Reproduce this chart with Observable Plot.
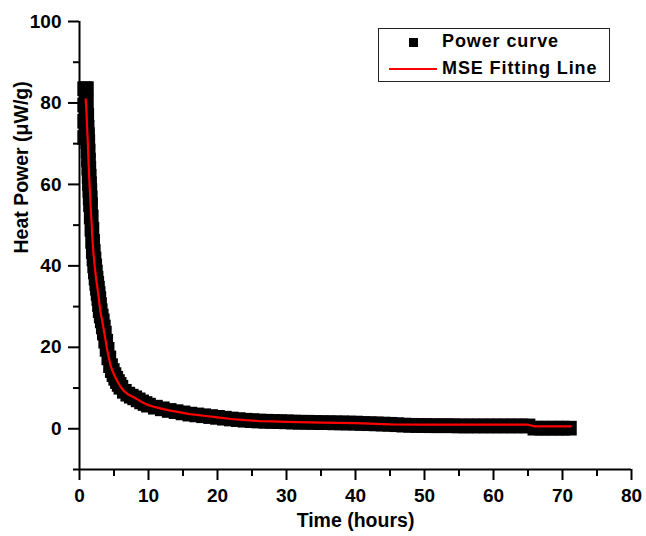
<!DOCTYPE html>
<html><head><meta charset="utf-8">
<script src="https://cdn.jsdelivr.net/npm/d3@7"></script>
<script src="https://cdn.jsdelivr.net/npm/@observablehq/plot@0.6"></script>
<style>
html,body{margin:0;padding:0;background:#fff;}
#wrap{position:relative;width:646px;height:536px;font-family:"Liberation Sans",Arial,sans-serif;}
#wrap svg{display:block;}
#wrap svg text{font-weight:bold;fill:#000;}
#legend{position:absolute;left:378px;top:28px;width:232px;height:54px;border:1.5px solid #222;box-sizing:border-box;background:#fff;}
.lg-text{position:absolute;left:63px;font-size:18px;font-weight:bold;line-height:18px;letter-spacing:0.9px;color:#000;white-space:nowrap;}
.lg-square{position:absolute;background:#000;}
.lg-line{position:absolute;background:#ff0000;}
</style></head><body>
<div id="wrap"></div>
<script>
// ---- data ----
const xTicks = [0, 10, 20, 30, 40, 50, 60, 70, 80];
const xMinorTicks = [5, 15, 25, 35, 45, 55, 65, 75];
const yTicks = [0, 20, 40, 60, 80, 100];
const yMinorTicks = [-10, 10, 30, 50, 70, 90];
const xLabel = "Time (hours)";
const yLabel = "Heat Power (\u03bcW/g)";
const seriesNames = ["Power curve", "MSE Fitting Line"];

// Power curve (measured points)
const powerTime = [
  0.75, 0.75, 0.75, 0.75, 1.0, 1.0, 1.05, 1.1, 1.15, 1.2,
  1.25, 1.3, 1.35, 1.4, 1.45, 1.5, 1.55, 1.6, 1.7, 1.8,
  1.9, 2.0, 2.1, 2.2, 2.3, 2.4, 2.5, 2.6, 2.7, 2.8,
  2.9, 3.0, 3.15, 3.3, 3.45, 3.6, 3.8, 4.0, 4.25, 4.5,
  4.75, 5.0, 5.25, 5.5, 5.75, 6.0, 6.5, 7.0, 7.5, 8.0,
  8.5, 9, 9.5, 10, 11, 12, 13, 14, 15, 16,
  17, 18, 19, 20, 21, 22, 23, 24, 25, 26,
  27, 28, 29, 30, 31, 32, 33, 34, 35, 36,
  37, 38, 39, 40, 41, 42, 43, 44, 45, 46,
  47, 48, 49, 50, 51, 52, 53, 54, 55, 56,
  57, 58, 59, 60, 61, 62, 63, 64, 65, 66,
  67, 68, 69, 70, 71
];
const powerValue = [
  83.5, 79.5, 75.5, 71.5, 83.5, 80, 77, 74, 72.2, 70.5,
  68.2, 66, 64, 62, 60.2, 58.5, 56.7, 55, 52, 49,
  46, 43.5, 41.7, 40, 38.5, 37, 35.7, 34.5, 33.2, 32,
  30.5, 29, 27.7, 26.5, 25, 23.5, 21.5, 19.5, 17.4, 15.5,
  14.3, 13.3, 12.4, 11.6, 10.9, 10.2, 9.2, 8.5, 8.0, 7.6,
  7.1, 6.6, 6.2, 5.8, 5.3, 4.9, 4.5, 4.2, 3.9, 3.6,
  3.4, 3.2, 3.0, 2.8, 2.6, 2.4, 2.25, 2.1, 2.0, 1.9,
  1.85, 1.8, 1.75, 1.7, 1.65, 1.6, 1.6, 1.55, 1.5, 1.5,
  1.45, 1.45, 1.4, 1.4, 1.3, 1.25, 1.2, 1.15, 1.1, 1.0,
  0.9, 0.85, 0.8, 0.8, 0.75, 0.75, 0.75, 0.75, 0.7, 0.7,
  0.7, 0.7, 0.7, 0.7, 0.7, 0.7, 0.7, 0.7, 0.7, 0.15,
  0.15, 0.15, 0.15, 0.15, 0.15
];

// MSE fitting line
const fitTime = [
  0.9, 1.0, 1.1, 1.2, 1.3, 1.4, 1.5, 1.6, 1.7, 1.8,
  1.9, 2.0, 2.2, 2.4, 2.6, 2.8, 3.0, 3.3, 3.6, 4.0,
  4.5, 5.0, 5.5, 6.0, 6.5, 7.0, 8.0, 9.0, 10, 11,
  12, 13, 14, 15, 16, 18, 20, 22, 24, 26,
  28, 30, 35, 40, 45, 50, 55, 60, 65, 66,
  71.2
];
const fitValue = [
  80.9, 78.5, 74, 70.5, 66, 62, 58.5, 55, 52, 49,
  46, 43.5, 40, 37, 34.5, 32, 29, 26.5, 23.5, 19.5,
  15.5, 13.3, 11.6, 10.2, 9.2, 8.5, 7.6, 6.6, 5.8, 5.3,
  4.9, 4.5, 4.2, 3.9, 3.6, 3.2, 2.8, 2.4, 2.1, 1.9,
  1.8, 1.7, 1.5, 1.4, 1.1, 1.0, 1.0, 1.0, 1.0, 0.6,
  0.6
];

const power = powerTime.map((t, i) => ({t, v: powerValue[i]}));
const fit = fitTime.map((t, i) => ({t, v: fitValue[i]}));

const font = "'Liberation Sans', Arial, sans-serif";

const chart = Plot.plot({
  width: 646,
  height: 536,
  marginLeft: 79,
  marginRight: 15,
  marginTop: 21,
  marginBottom: 67,
  x: {domain: [0, 80]},
  y: {domain: [-10, 100]},
  style: {fontFamily: font, fontSize: "19px", fontWeight: "bold", color: "#000", background: "#fff", overflow: "visible"},
  marks: [
    Plot.dot(power, {x: "t", y: "v", symbol: "square", r: 8.3, fill: "#000", stroke: "none"}),
    Plot.line(fit, {x: "t", y: "v", stroke: "#ff0000", strokeWidth: 2.2}),
    Plot.ruleX([0], {stroke: "#000", strokeWidth: 2}),
    Plot.ruleY([-10], {stroke: "#000", strokeWidth: 2}),
    Plot.axisX(xTicks, {tickSize: 11, tickPadding: 8, strokeWidth: 2, label: null, fontSize: 19, fontWeight: "bold", fill: "#000"}),
    Plot.axisX(xMinorTicks, {tickSize: 7, strokeWidth: 2, label: null, tickFormat: () => ""}),
    Plot.axisY(yTicks, {tickSize: 11, tickPadding: 7, strokeWidth: 2, label: null, fontSize: 19, fontWeight: "bold", fill: "#000"}),
    Plot.axisY(yMinorTicks, {tickSize: 6, strokeWidth: 2, label: null, tickFormat: () => ""}),
    Plot.text([xLabel], {frameAnchor: "bottom", dy: 57, fontSize: 19.5, fontWeight: "bold", fill: "#000"}),
    Plot.text([yLabel], {frameAnchor: "left", rotate: -90, dx: -58, dy: 8, fontSize: 19.5, fontWeight: "bold", fill: "#000"})
  ]
});

const wrap = document.getElementById("wrap");
wrap.appendChild(chart);

// legend (inside the plot frame, top right)
const legend = document.createElement("div");
legend.id = "legend";
legend.innerHTML =
  `<div class="lg-square" style="left:30px;top:8.5px;width:9px;height:9px;"></div>` +
  `<div class="lg-text" style="top:2.5px;">${seriesNames[0]}</div>` +
  `<div class="lg-line" style="left:10px;top:38.5px;width:48px;height:2px;"></div>` +
  `<div class="lg-text" style="top:29.5px;">${seriesNames[1]}</div>`;
wrap.appendChild(legend);
</script>
</body></html>
